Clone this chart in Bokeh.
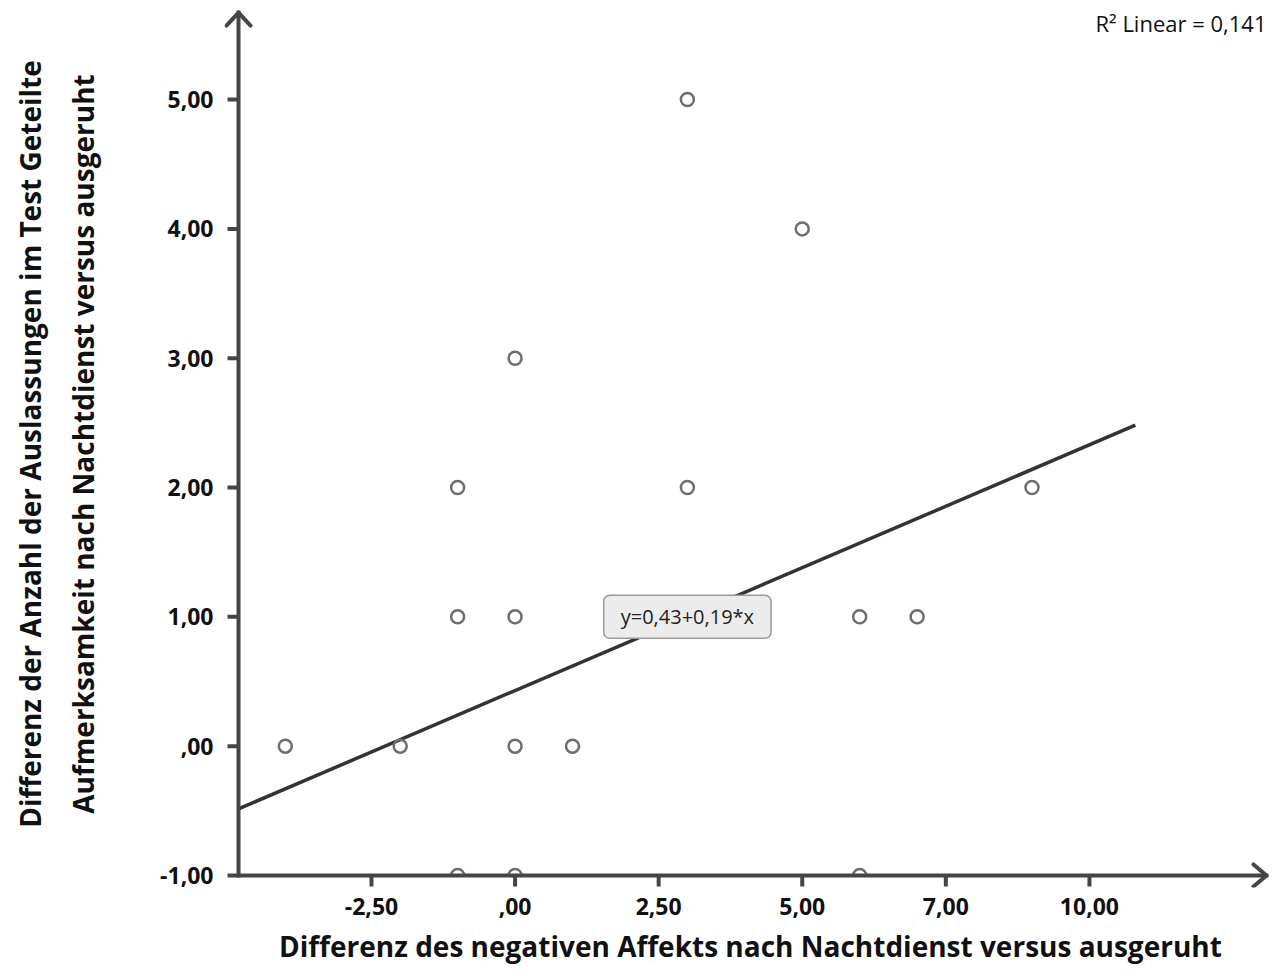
from bokeh.plotting import figure
from bokeh.models import Range1d, Label, FixedTicker
from bokeh.embed import file_html
from bokeh.resources import INLINE

# data
neg_affect_diff = [-4, -2, -1, -1, -1, 0, 0, 0, 0, 1, 3, 3, 5, 6, 6, 7, 9]
omissions_diff = [0, 0, 2, 1, -1, 3, 1, 0, -1, 0, 5, 2, 4, 1, -1, 1, 2]
intercept = 0.43
slope = 0.19

x_ticks = [-2.5, 0, 2.5, 5, 7.5, 10]
x_tick_labels = ["-2,50", ",00", "2,50", "5,00", "7,00", "10,00"]
y_ticks = [-1, 0, 1, 2, 3, 4, 5]
y_tick_labels = ["-1,00", ",00", "1,00", "2,00", "3,00", "4,00", "5,00"]

eq_text = "y=0,43+0,19*x"
r2_text = "R² Linear = 0,141"

x_label = "Differenz des negativen Affekts nach Nachtdienst versus ausgeruht"
y_label = "Differenz der Anzahl der Auslassungen im Test Geteilte\nAufmerksamkeit nach Nachtdienst versus ausgeruht"

# axis geometry (data units)
X_AXIS_AT = -4.815      # where the vertical axis crosses
Y_AXIS_AT = -1.0        # where the horizontal axis crosses
X_TIP, Y_TIP = 13.083, 5.673
XMIN, XMAX = -5.059, 13.257
YMIN, YMAX = -1.093, 5.766
PX_X = 1 / 57.44
PX_Y = 1 / 129.33
TICK = 11

fit_x = [X_AXIS_AT, 10.8]
fit_y = [intercept + slope * v for v in fit_x]

p = figure(width=1278, height=976, output_backend="svg", toolbar_location=None,
           x_range=Range1d(XMIN, XMAX), y_range=Range1d(YMIN, YMAX),
           min_border_left=224, min_border_right=2, min_border_top=0, min_border_bottom=89)
p.outline_line_color = None
p.grid.visible = False

axis_color = "#454545"
for ax in (p.xaxis[0], p.yaxis[0]):
    ax.axis_line_color = None
    ax.major_tick_line_color = None
    ax.major_tick_in = 0
    ax.major_tick_out = 0
    ax.minor_tick_line_color = None
    ax.major_label_text_font = "Open Sans"
    ax.major_label_text_font_style = "bold"
    ax.major_label_text_font_size = "23px"
    ax.major_label_text_color = "#111111"
    ax.axis_label_text_font = "Open Sans"
    ax.axis_label_text_font_style = "bold"
    ax.axis_label_text_font_size = "28px"
    ax.axis_label_text_color = "#111111"

p.xaxis.ticker = FixedTicker(ticks=x_ticks)
p.xaxis.major_label_overrides = {t: l for t, l in zip(x_ticks, x_tick_labels)}
p.yaxis.ticker = FixedTicker(ticks=y_ticks)
p.yaxis.major_label_overrides = {t: l for t, l in zip(y_ticks, y_tick_labels)}
p.xaxis.axis_label = x_label
p.yaxis.axis_label = y_label
p.xaxis.major_label_standoff = 10
p.xaxis.axis_label_standoff = 9
p.yaxis.major_label_standoff = 11
p.yaxis.axis_label_standoff = 55
p.yaxis.axis_label_text_line_height = 1.4

# fit line
p.line(fit_x, fit_y, line_color="#333333", line_width=3.5)

# points
p.scatter(neg_affect_diff, omissions_diff, marker="circle", size=13,
          fill_color=None, line_color="#6e6e6e", line_width=2.5)

# mask below the horizontal axis (points there are cut in half)
p.quad(left=XMIN, right=XMAX, bottom=YMIN, top=Y_AXIS_AT,
       fill_color="white", line_color=None)

# axis lines and ticks
p.line([X_AXIS_AT, X_AXIS_AT], [Y_AXIS_AT, Y_TIP], line_color=axis_color, line_width=4,
       line_cap="square")
p.line([X_AXIS_AT, X_TIP], [Y_AXIS_AT, Y_AXIS_AT], line_color=axis_color, line_width=4,
       line_cap="square")
p.segment(x0=x_ticks, y0=[Y_AXIS_AT] * len(x_ticks),
          x1=x_ticks, y1=[Y_AXIS_AT - TICK * PX_Y] * len(x_ticks),
          line_color=axis_color, line_width=4)
p.segment(x0=[X_AXIS_AT] * len(y_ticks), y0=y_ticks,
          x1=[X_AXIS_AT - TICK * PX_X] * len(y_ticks), y1=y_ticks,
          line_color=axis_color, line_width=4)

# arrow heads
p.line([X_AXIS_AT - 12 * PX_X, X_AXIS_AT, X_AXIS_AT + 12 * PX_X],
       [Y_TIP - 13 * PX_Y, Y_TIP, Y_TIP - 13 * PX_Y],
       line_color=axis_color, line_width=4, line_join="round", line_cap="round")
p.line([X_TIP - 13 * PX_X, X_TIP, X_TIP - 13 * PX_X],
       [Y_AXIS_AT + 11 * PX_Y, Y_AXIS_AT, Y_AXIS_AT - 11 * PX_Y],
       line_color=axis_color, line_width=4, line_join="round", line_cap="round")

# equation box
p.add_layout(Label(x=3.0, y=1.0, text=eq_text, text_align="center", text_baseline="middle",
                   text_font="Open Sans", text_font_size="20px", text_color="#222222",
                   background_fill_color="#ececec", border_line_color="#9a9a9a",
                   border_line_width=1.5, padding=(17, 8), border_radius=6))

# R2 text
p.add_layout(Label(x=X_TIP, y=Y_TIP - 10 * PX_Y, text=r2_text, text_align="right",
                   text_baseline="middle", text_font="Open Sans", text_font_size="22px",
                   text_color="#111111"))

open("out.html", "w").write(file_html(p, INLINE))
